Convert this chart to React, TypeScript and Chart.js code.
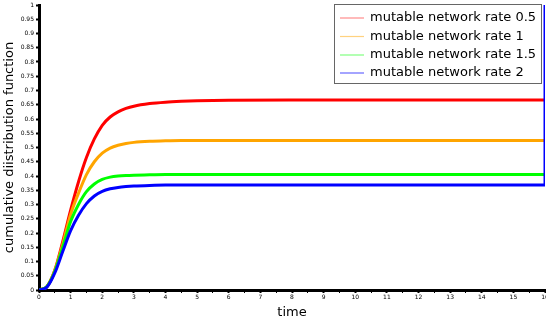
import React, { useEffect, useRef } from "react";
import { Chart, registerables } from "chart.js";

Chart.register(...registerables);

const times = [0, 0.25, 0.5, 0.75, 1, 1.25, 1.5, 1.75, 2, 2.25, 2.5, 2.75, 3, 3.5, 4, 4.5, 5, 6, 8, 10, 12, 14, 16];
const rate05 = [0, 0.012, 0.07, 0.17, 0.28, 0.38, 0.465, 0.53, 0.578, 0.607, 0.625, 0.637, 0.645, 0.654, 0.659, 0.662, 0.664, 0.666, 0.667, 0.667, 0.667, 0.667, 0.667];
const rate1 = [0, 0.012, 0.068, 0.16, 0.265, 0.34, 0.405, 0.45, 0.48, 0.498, 0.508, 0.514, 0.518, 0.522, 0.524, 0.525, 0.525, 0.525, 0.525, 0.525, 0.525, 0.525, 0.525];
const rate15 = [0, 0.012, 0.066, 0.15, 0.24, 0.3, 0.345, 0.372, 0.388, 0.396, 0.4, 0.402, 0.403, 0.404, 0.405, 0.405, 0.405, 0.405, 0.405, 0.405, 0.405, 0.405, 0.405];
const rate2 = [0, 0.01, 0.06, 0.135, 0.208, 0.262, 0.303, 0.33, 0.346, 0.355, 0.36, 0.363, 0.365, 0.367, 0.368, 0.368, 0.368, 0.368, 0.368, 0.368, 0.368, 0.368, 0.368];
const rate2EndTime = 16;
const rate2EndValue = 1;

const seriesLabels = [
  "mutable network rate 0.5",
  "mutable network rate 1",
  "mutable network rate 1.5",
  "mutable network rate 2",
];
const seriesColors = ["#ff0000", "#ffa500", "#00ff00", "#0000ff"];
const legendColors = ["rgba(255,0,0,0.45)", "rgba(255,165,0,0.5)", "rgba(0,255,0,0.5)", "rgba(0,0,255,0.6)"];

const toPts = (vals: number[]) => times.map((t, i) => ({ x: t, y: vals[i] }));

const legendPlugin = {
  id: "boxLegend",
  afterDatasetsDraw(chart: any) {
    const ctx = chart.ctx;
    const x0 = 334.5, y0 = 4.5, w = 207, h = 79;
    ctx.save();
    ctx.fillStyle = "#ffffff";
    ctx.fillRect(x0, y0, w, h);
    ctx.strokeStyle = "#666666";
    ctx.lineWidth = 1;
    ctx.strokeRect(x0, y0, w, h);
    ctx.font = "13px 'DejaVu Sans'";
    ctx.textBaseline = "middle";
    ctx.textAlign = "left";
    const rows = [18, 36.5, 55, 73];
    seriesLabels.forEach((lab, i) => {
      ctx.strokeStyle = legendColors[i];
      ctx.lineWidth = 1.2;
      ctx.beginPath();
      ctx.moveTo(340, rows[i]);
      ctx.lineTo(364, rows[i]);
      ctx.stroke();
      ctx.fillStyle = "#000000";
      ctx.fillText(lab, 370, rows[i]);
    });
    ctx.restore();
  },
};

export default function App() {
  const ref = useRef<HTMLCanvasElement>(null);
  useEffect(() => {
    const canvas = ref.current!;
    const blue = toPts(rate2).concat([{ x: rate2EndTime, y: rate2EndValue }]);
    const chart = new Chart(canvas, {
      type: "line",
      data: {
        datasets: [
          { label: seriesLabels[0], data: toPts(rate05), borderColor: seriesColors[0], order: 3 },
          { label: seriesLabels[1], data: toPts(rate1), borderColor: seriesColors[1], order: 2 },
          { label: seriesLabels[2], data: toPts(rate15), borderColor: seriesColors[2], order: 1 },
          { label: seriesLabels[3], data: blue, borderColor: seriesColors[3], order: 0 },
        ].map((d) => ({
          ...d,
          borderWidth: 3,
          pointRadius: 0,
          fill: false,
          cubicInterpolationMode: "monotone" as const,
        })),
      },
      options: {
        animation: false,
        responsive: false,
        maintainAspectRatio: false,
        layout: { padding: { top: 5, right: 1, left: 0, bottom: 0 } },
        plugins: { legend: { display: false }, tooltip: { enabled: false } },
        scales: {
          x: {
            type: "linear",
            min: 0,
            max: 16,
            afterFit: (s: any) => { s.height = 34; s.paddingLeft = 0; s.paddingRight = 0; },
            border: { display: true, color: "#000", width: 3 },
            grid: {
              drawOnChartArea: false,
              drawTicks: true,
              tickLength: 3,
              tickColor: "#000",
              tickWidth: (c: any) => (Number.isInteger(c.tick?.value) ? 2 : 1),
            },
            ticks: {
              stepSize: 0.5,
              autoSkip: false,
              maxRotation: 0,
              padding: 1,
              color: "#000",
              font: { family: "'DejaVu Sans'", size: 6 },
              callback: (v: any) => (Number.isInteger(v) ? String(v) : ""),
            },
            title: {
              display: true,
              text: "time",
              color: "#000",
              font: { family: "'DejaVu Sans'", size: 13 },
              padding: { top: 1, bottom: 4 },
            },
          },
          y: {
            type: "linear",
            min: 0,
            max: 1,
            afterFit: (s: any) => { s.width = 39; s.paddingTop = 0; s.paddingBottom = 0; },
            border: { display: true, color: "#000", width: 3 },
            grid: {
              drawOnChartArea: false,
              drawTicks: true,
              tickLength: 3,
              tickColor: "#000",
              tickWidth: 2,
            },
            ticks: {
              stepSize: 0.05,
              autoSkip: false,
              padding: 2,
              color: "#000",
              font: { family: "'DejaVu Sans'", size: 6 },
              callback: (v: any) => String(Math.round(v * 100) / 100),
            },
            title: {
              display: true,
              text: "cumulative diistribution function",
              color: "#000",
              font: { family: "'DejaVu Sans'", size: 13 },
              padding: { top: 2, bottom: 0 },
            },
          },
        },
      },
      plugins: [legendPlugin],
    });
    return () => chart.destroy();
  }, []);
  return (
    <div style={{ position: "fixed", left: 0, top: 0, width: 546, height: 324, background: "#fff" }}>
      <canvas ref={ref} width={546} height={324} style={{ display: "block", width: 546, height: 324 }} />
    </div>
  );
}
